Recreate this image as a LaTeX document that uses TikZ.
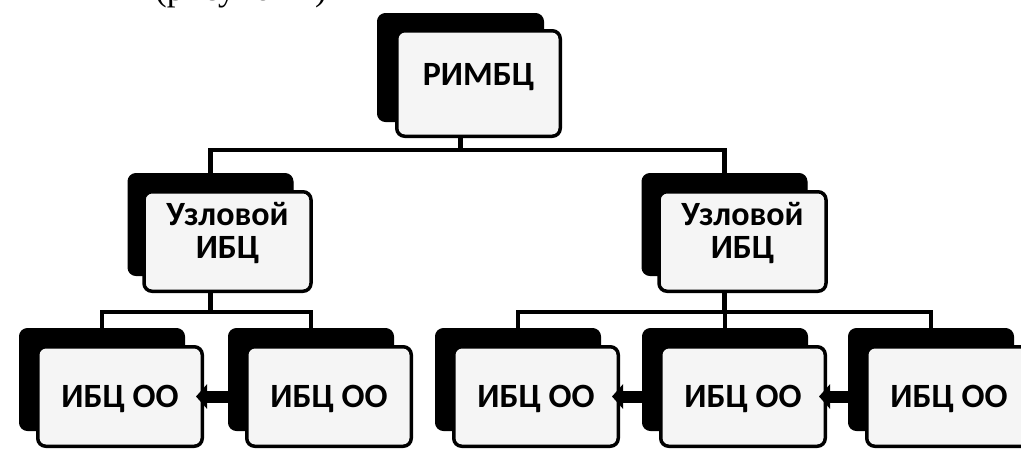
\documentclass[tikz,border=0pt]{standalone}
\usepackage{fontspec}
\setmainfont{Carlito}
\newfontfamily\capfont{Liberation Serif}
\usetikzlibrary{arrows.meta}
\begin{document}
\begin{tikzpicture}[x=1pt,y=-1pt,
  back/.style={draw=black, fill=black, rounded corners=8pt, minimum width=165pt, minimum height=102pt, inner sep=0pt, line width=1pt},
  front/.style={draw=black, fill=black!4, rounded corners=8pt, minimum width=164.5pt, minimum height=99.5pt, inner sep=0pt, line width=3.5pt},
  lbl/.style={font=\bfseries\fontsize{34}{33}\selectfont, align=center, inner sep=0pt},
  link/.style={line width=4.5pt},
  assist/.style={line width=12pt, -{Triangle[length=11pt,width=24pt]}}]
\useasboundingbox (0,0) rectangle (1021,451);
\clip (0,0) rectangle (1021,451);
\fill[white] (0,0) rectangle (1021,451);

% cut-off caption line at the top
\node[font=\capfont\fontsize{35}{40}\selectfont, anchor=base west, inner sep=0pt] (cap) at (155,0) {(рисунок 1)};

\coordinate (topbus) at (0,150);
\coordinate (lowbus) at (0,312);

% top box
\node[back, minimum width=166pt, minimum height=108pt] (rb) at (460.5,67.5) {};
\node[front, minimum width=163.5pt, minimum height=105.5pt] (r) at (478.5,83.5) {};
\node[lbl] (rt) at (478.5,77.5) {РИМБЦ};

% middle boxes
\node[back] (u1b) at (210.5,224.5) {};
\node[front, minimum width=167pt] (u1) at (227.5,241.5) {};
\node[lbl] (u1t) at (227.5,232.5) {Узловой\\ИБЦ};

\node[back] (u2b) at (724.5,224.5) {};
\node[front, minimum width=167pt] (u2) at (742.5,241.5) {};
\node[lbl] (u2t) at (742.5,232.5) {Узловой\\ИБЦ};

% bottom boxes
\foreach \i/\x in {1/120,2/329,3/536,4/743,5/949}{
  \node[back] (b\i b) at (\x-18,379.5) {};
  \node[front] (b\i) at (\x,396.5) {};
  \node[lbl] (b\i t) at (\x,398.5) {ИБЦ ОО};
}

% connectors
\draw[link] (rb.center |- r.south) -- (rb.center |- topbus);
\draw[link] (u1b.north) -- (u1b.center |- topbus) -- (u2b.center |- topbus) -- (u2b.north);

\draw[link] (u1b.center |- u1.south) -- (u1b.center |- lowbus);
\draw[link] (b1b.north) -- (b1b.center |- lowbus) -- (b2b.center |- lowbus) -- (b2b.north);

\draw[link] (u2b.center |- u2.south) -- (u2b.center |- lowbus);
\draw[link] (b3b.north) -- (b3b.center |- lowbus) -- (b5b.center |- lowbus) -- (b5b.north);
\draw[link] (b4b.center |- lowbus) -- (b4b.north);

% assistant arrows
\draw[assist] (b2b.west |- b2.center) -- ([xshift=-8pt]b1.east);
\draw[assist] (b4b.west |- b4.center) -- ([xshift=-8pt]b3.east);
\draw[assist] (b5b.west |- b5.center) -- ([xshift=-8pt]b4.east);
\end{tikzpicture}
\end{document}
